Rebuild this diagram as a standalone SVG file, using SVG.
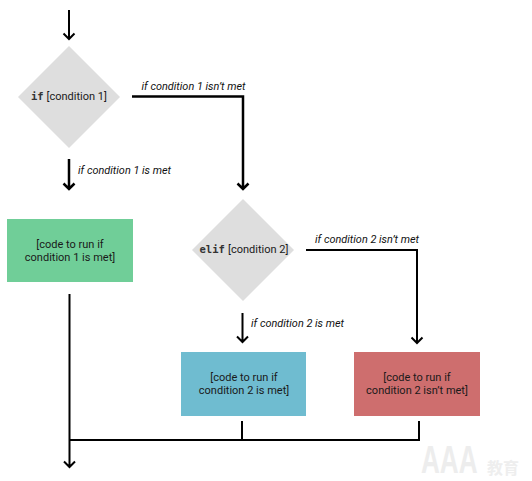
<svg xmlns="http://www.w3.org/2000/svg" width="532" height="481" viewBox="0 0 532 481">
<style>
.d{fill:#dedede}
.t{font-family:Roboto,"Liberation Sans",sans-serif;font-size:11px;fill:#1a1a1a;text-anchor:middle}
.b{font-family:Roboto,"Liberation Sans",sans-serif;font-size:11px;fill:#1a1a1a}
.m{font-family:"DejaVu Sans Mono","Liberation Mono",monospace;font-size:10.500px;font-weight:bold;fill:#333}
.l{font-family:Roboto,"Liberation Sans",sans-serif;font-size:10.900px;font-style:italic;fill:#111}
.c{fill:none;stroke:#000;stroke-width:2}
.k{fill:none;stroke:#000;stroke-width:2.500}
.w{font-family:"Liberation Sans",sans-serif;font-weight:bold;font-size:39px;fill:#ededed}
.z{font-family:"Noto Sans CJK SC",sans-serif;font-weight:bold;font-size:16px;fill:#eeeeee}
</style>
<rect width="532" height="481" fill="#fff"/>
<g id="connectors">
<path class="c" d="M69 10V39M63.500 33.500L69 39L74.500 33.500"/>
<path class="k" d="M69 159V189M63.500 183.500L69 189L74.500 183.500"/>
<path class="k" d="M132 96.500H243V189M237.500 183.500L243 189L248.500 183.500"/>
<path class="c" d="M242.500 313V342M237 336.500L242.500 342L248 336.500"/>
<path class="c" d="M306 250H417V343M411.500 337.500L417 343L422.500 337.500"/>
<path class="c" d="M69.500 294V467M64 461.500L69.500 467L75 461.500"/>
<path class="c" d="M69.500 440H419V421"/>
<path class="c" d="M242 421V440"/>
</g>
<g id="if1"><polygon class="d" points="69,46 120,97 69,148 18,97"/>
<text x="31" y="100" class="m">if</text><text x="46.500" y="100" class="b">[condition 1]</text></g>
<g id="code1"><rect x="7" y="219" width="126" height="63" fill="#70ce98"/>
<text x="70" y="248" class="t">[code to run if</text><text x="70" y="261" class="t">condition 1 is met]</text></g>
<g id="if2"><polygon class="d" points="243,199 294,250 243,301 192,250"/>
<text x="199.500" y="253" class="m">elif</text><text x="228" y="253" class="b">[condition 2]</text></g>
<g id="code2"><rect x="181" y="352" width="125" height="64" fill="#6fbcd0"/>
<text x="244" y="381" class="t">[code to run if</text><text x="244" y="394" class="t">condition 2 is met]</text></g>
<g id="code3"><rect x="354" y="352" width="126" height="64" fill="#ce6e6e"/>
<text x="417" y="381" class="t">[code to run if</text><text x="417" y="394" class="t">condition 2 isn’t met]</text></g>
<g id="labels">
<text x="141.500" y="89.500" class="l">if condition 1 isn’t met</text>
<text x="78" y="174" class="l">if condition 1 is met</text>
<text x="315" y="243" class="l">if condition 2 isn’t met</text>
<text x="251" y="327" class="l">if condition 2 is met</text>
</g>
<g id="watermark">
<text transform="translate(421 473) scale(.67 1)" class="w">AAA</text>
<text x="487" y="474" class="z">教育</text>
</g>
</svg>
